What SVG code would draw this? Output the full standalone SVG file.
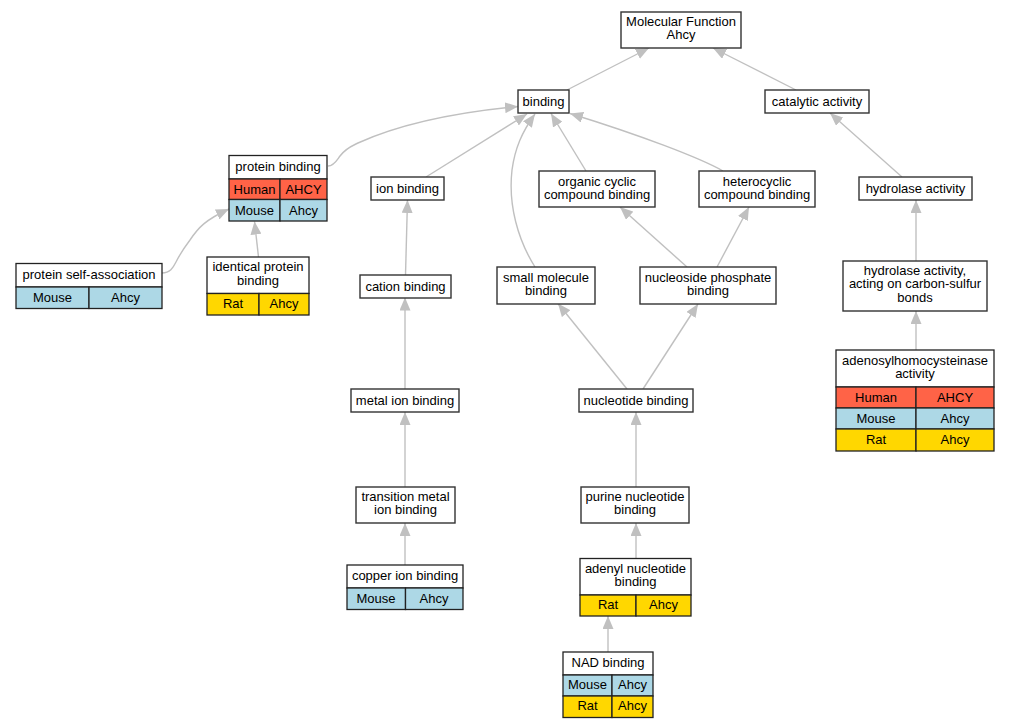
<svg xmlns="http://www.w3.org/2000/svg" width="1009" height="728" viewBox="0 0 1009 728">
<defs>
<style>
text{font-family:"Liberation Sans",Arial,sans-serif;font-size:13px;fill:#000;text-anchor:middle}
.n{fill:#fff;stroke:#333;stroke-width:1.4}
.c{stroke:#222;stroke-width:1.3}
.w{fill:#fff}
.h{fill:#ff6347}
.m{fill:#add8e6}
.r{fill:#ffd700}
#edges path{fill:none;stroke:#c0c0c0;stroke-width:1.4;marker-end:url(#arr)}
</style>
<marker id="arr" markerUnits="userSpaceOnUse" viewBox="0 0 13 11" refX="13" refY="5.5" markerWidth="13" markerHeight="11" orient="auto">
<path d="M0,0 L13,5.5 L0,11 z" fill="#c0c0c0"/>
</marker>
</defs>
<rect width="1009" height="728" fill="#fff"/>
<g id="edges">
<path d="M567,90 L649,48"/>
<path d="M796,90 L713,48"/>
<path d="M328,166 C334,166 337,160 340,156 C346,148 352,146 358,143 C400,124 460,112 518,106.5"/>
<path d="M426,177 L527,114"/>
<path d="M535,267 C518,240 508,205 512,170 C515,148 522,132 535,114"/>
<path d="M586,171 L551,113.5"/>
<path d="M723,171 C700,158 640,135 570,113.5"/>
<path d="M687,267 L620,207"/>
<path d="M717,267 L749,207"/>
<path d="M405.5,275 L407.5,200"/>
<path d="M405,389 L405,297.5"/>
<path d="M405,487 L405,412"/>
<path d="M405,565 L405,523"/>
<path d="M627,389 L558,303.5"/>
<path d="M643,389 L698,304"/>
<path d="M636,487 L636,412"/>
<path d="M636,558 L636,523"/>
<path d="M608,652 L608,616"/>
<path d="M258.5,257 L254.5,221.5"/>
<path d="M162,273 C170,273 173,268 176,262 C180,254 184,248 190,240 C198,228 205,220 229,209"/>
<path d="M902,177 L830,113"/>
<path d="M916,261 L916,200"/>
<path d="M916,350 L916,311"/>
</g>
<g id="mf"><rect class="n" x="621" y="12" width="120" height="36"/><text x="681" y="26">Molecular Function</text><text x="681" y="39">Ahcy</text></g>
<g id="binding"><rect class="n" x="518" y="90" width="51" height="23"/><text x="543.5" y="105.5">binding</text></g>
<g id="catalytic"><rect class="n" x="765" y="90" width="104" height="23"/><text x="817" y="105.5">catalytic activity</text></g>
<g id="ionbinding"><rect class="n" x="371" y="177" width="73" height="23"/><text x="407.5" y="192.5">ion binding</text></g>
<g id="organic"><rect class="n" x="539" y="171" width="116" height="36"/><text x="597" y="185.5">organic cyclic</text><text x="597" y="198.5">compound binding</text></g>
<g id="hetero"><rect class="n" x="699" y="171" width="116" height="36"/><text x="757" y="185.5">heterocyclic</text><text x="757" y="198.5">compound binding</text></g>
<g id="cation"><rect class="n" x="360" y="275" width="91" height="23"/><text x="405.5" y="290.5">cation binding</text></g>
<g id="smallmol"><rect class="n" x="497" y="267" width="98" height="37"/><text x="546" y="281.5">small molecule</text><text x="546" y="294.5">binding</text></g>
<g id="nucphos"><rect class="n" x="640" y="267" width="136" height="37"/><text x="708" y="281.5">nucleoside phosphate</text><text x="708" y="294.5">binding</text></g>
<g id="hydrolase"><rect class="n" x="859" y="177" width="113" height="23"/><text x="915.5" y="192.5">hydrolase activity</text></g>
<g id="hydrolasecs"><rect class="n" x="843" y="261" width="144" height="50"/><text x="915" y="275">hydrolase activity,</text><text x="915" y="288.3">acting on carbon-sulfur</text><text x="915" y="301.6">bonds</text></g>
<g id="metalion"><rect class="n" x="351" y="389" width="108" height="23"/><text x="405" y="404.5">metal ion binding</text></g>
<g id="nucleotide"><rect class="n" x="579" y="389" width="114" height="23"/><text x="636" y="404.5">nucleotide binding</text></g>
<g id="transition"><rect class="n" x="356" y="487" width="99" height="36"/><text x="405.5" y="501">transition metal</text><text x="405.5" y="514">ion binding</text></g>
<g id="purine"><rect class="n" x="581" y="487" width="108" height="36"/><text x="635" y="501">purine nucleotide</text><text x="635" y="514">binding</text></g>
<g id="proteinbinding">
<rect class="c w" x="229" y="155.5" width="98" height="23.5"/><text x="278" y="171">protein binding</text>
<rect class="c h" x="229" y="179" width="51" height="20.5"/><rect class="c h" x="280" y="179" width="47" height="20.5"/>
<text x="254.5" y="193.5">Human</text><text x="303.5" y="193.5">AHCY</text>
<rect class="c m" x="229" y="199.5" width="51" height="21.5"/><rect class="c m" x="280" y="199.5" width="47" height="21.5"/>
<text x="254.5" y="214.5">Mouse</text><text x="303.5" y="214.5">Ahcy</text>
</g>
<g id="selfassoc">
<rect class="c w" x="16" y="263.5" width="146" height="23.5"/><text x="89" y="279">protein self-association</text>
<rect class="c m" x="16" y="287" width="73" height="21.5"/><rect class="c m" x="89" y="287" width="73" height="21.5"/>
<text x="52.5" y="301.5">Mouse</text><text x="125.5" y="301.5">Ahcy</text>
</g>
<g id="identical">
<rect class="c w" x="207" y="257" width="102" height="36.5"/><text x="258" y="271">identical protein</text><text x="258" y="285">binding</text>
<rect class="c r" x="207" y="293.5" width="52" height="21.5"/><rect class="c r" x="259" y="293.5" width="50" height="21.5"/>
<text x="233" y="308">Rat</text><text x="284" y="308">Ahcy</text>
</g>
<g id="ahcyase">
<rect class="c w" x="836" y="350" width="158" height="37"/><text x="915" y="364.5">adenosylhomocysteinase</text><text x="915" y="378">activity</text>
<rect class="c h" x="836" y="387" width="80" height="21"/><rect class="c h" x="916" y="387" width="78" height="21"/>
<text x="876" y="401.5">Human</text><text x="955" y="401.5">AHCY</text>
<rect class="c m" x="836" y="408" width="80" height="21"/><rect class="c m" x="916" y="408" width="78" height="21"/>
<text x="876" y="422.5">Mouse</text><text x="955" y="422.5">Ahcy</text>
<rect class="c r" x="836" y="429" width="80" height="22"/><rect class="c r" x="916" y="429" width="78" height="22"/>
<text x="876" y="444">Rat</text><text x="955" y="444">Ahcy</text>
</g>
<g id="copper">
<rect class="c w" x="347" y="565" width="116" height="23"/><text x="405" y="580">copper ion binding</text>
<rect class="c m" x="347" y="588" width="58.5" height="21.5"/><rect class="c m" x="405.5" y="588" width="57.5" height="21.5"/>
<text x="376" y="602.5">Mouse</text><text x="434" y="602.5">Ahcy</text>
</g>
<g id="adenyl">
<rect class="c w" x="580" y="558.5" width="111" height="36.5"/><text x="635.5" y="572.5">adenyl nucleotide</text><text x="635.5" y="586">binding</text>
<rect class="c r" x="580" y="595" width="56" height="21"/><rect class="c r" x="636" y="595" width="55" height="21"/>
<text x="608" y="609">Rat</text><text x="663.5" y="609">Ahcy</text>
</g>
<g id="nad">
<rect class="c w" x="563" y="652" width="90" height="23"/><text x="608" y="667">NAD binding</text>
<rect class="c m" x="563" y="675" width="49" height="21"/><rect class="c m" x="612" y="675" width="41" height="21"/>
<text x="587.5" y="689">Mouse</text><text x="632.5" y="689">Ahcy</text>
<rect class="c r" x="563" y="696" width="49" height="21.5"/><rect class="c r" x="612" y="696" width="41" height="21.5"/>
<text x="587.5" y="710">Rat</text><text x="632.5" y="710">Ahcy</text>
</g>
</svg>
